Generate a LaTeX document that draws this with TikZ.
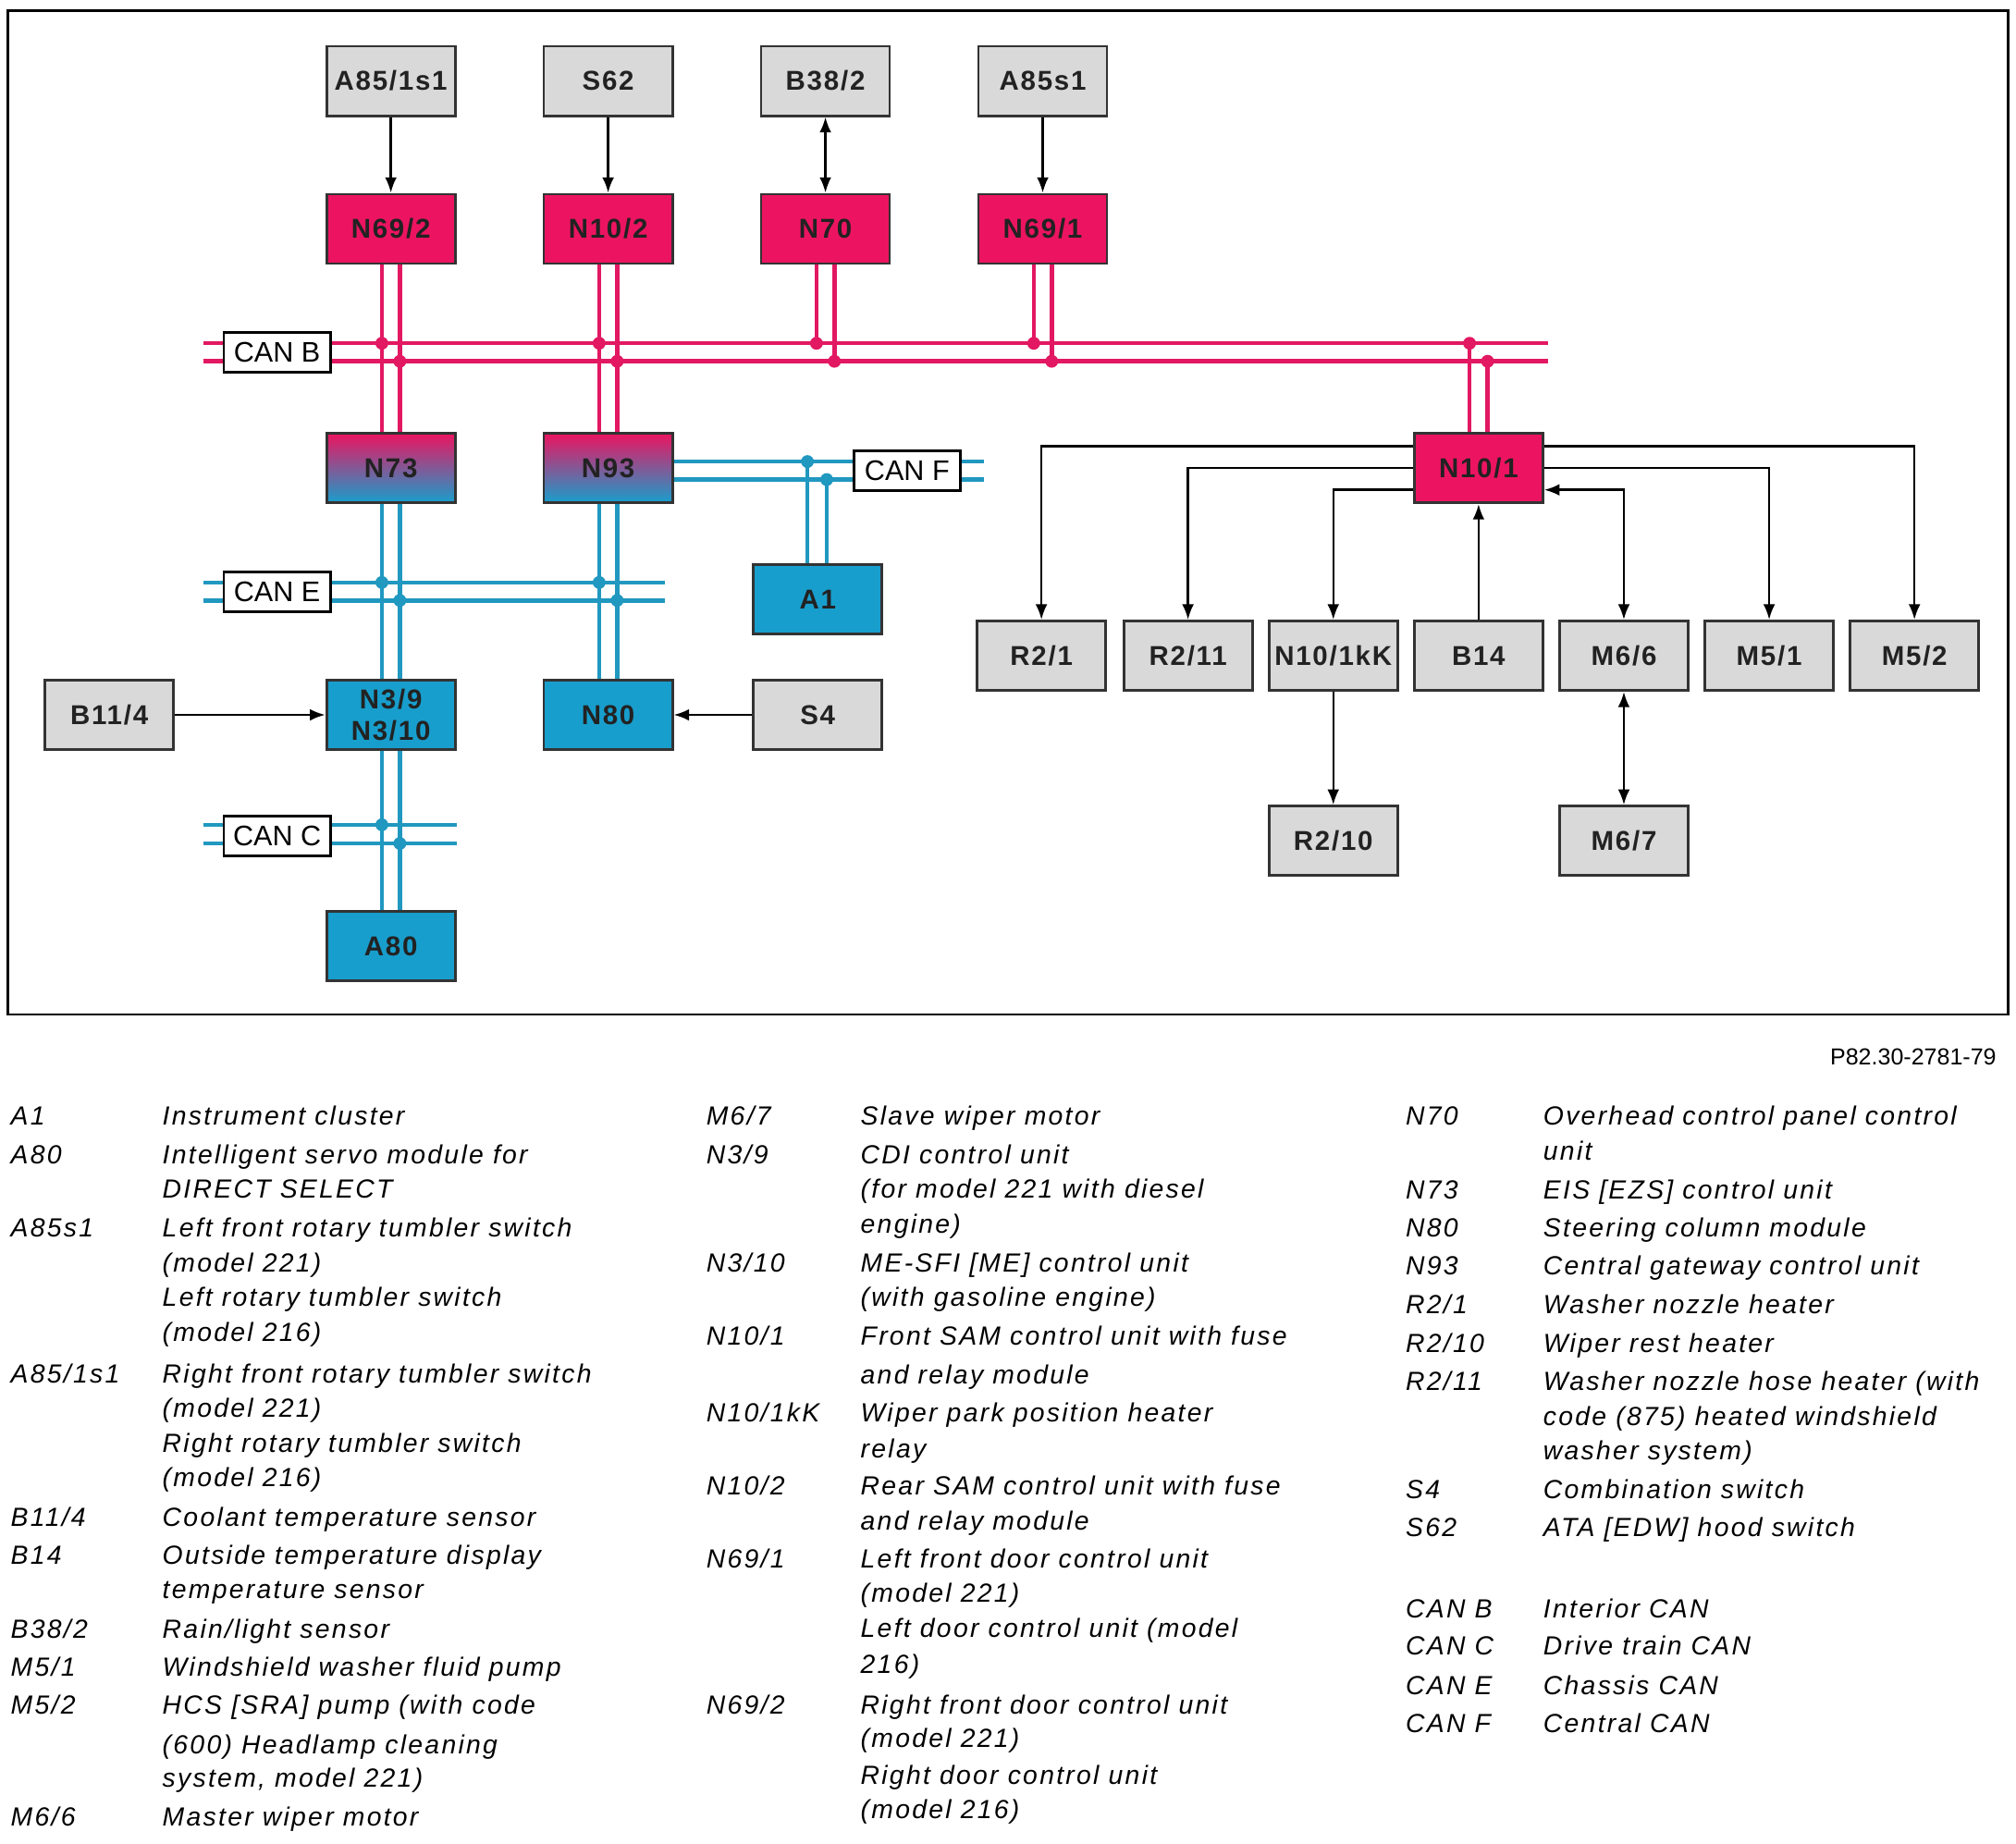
\documentclass[tikz,border=0pt]{standalone}
\usepackage{fontspec}
\setmainfont{Liberation Sans}
\newfontfamily\boxfont[LetterSpace=6]{Liberation Sans}
\newfontfamily\lgfont[LetterSpace=8]{Liberation Sans}
\usetikzlibrary{arrows.meta,calc}
\definecolor{pinkbox}{RGB}{236,20,96}
\definecolor{bluebox}{RGB}{24,158,204}
\definecolor{grayfill}{RGB}{217,217,217}
\definecolor{pinkbus}{RGB}{226,24,98}
\definecolor{bluebus}{RGB}{32,152,192}
\definecolor{boxtxt}{RGB}{34,34,34}
\newcommand{\lgl}[4]{\node[lg] (#1) at (#2,#3+7) {#4};}
\begin{document}
\begin{tikzpicture}[x=0.5pt,y=-0.5pt,
  unit/.style={draw=black!80, line width=1pt, minimum width=50pt, minimum height=27pt, inner sep=0pt,
    font=\boxfont\bfseries\fontsize{10.6}{12}\selectfont, text=boxtxt, align=center},
  gbox/.style={unit, fill=grayfill},
  pbox/.style={unit, fill=pinkbox},
  bbox/.style={unit, fill=bluebox},
  mbox/.style={unit, top color=pinkbox, bottom color=bluebox},
  canlbl/.style={draw=black, line width=1pt, fill=white, minimum width=41.5pt, minimum height=15.5pt, inner sep=0pt,
    font=\fontsize{11}{12}\selectfont},
  pbus/.style={pinkbus, line width=1.6pt},
  bbus/.style={bluebus, line width=1.6pt},
  arr/.style={line width=0.9pt, -{Latex[length=6pt,width=4.6pt]}},
  darr/.style={line width=0.9pt, {Latex[length=6pt,width=4.6pt]}-{Latex[length=6pt,width=4.6pt]}},
  lg/.style={anchor=base west, inner sep=0pt, font=\lgfont\itshape\fontsize{10.2}{12}\selectfont},
  pdot/.style={fill=pinkbus, draw=none},
  bdot/.style={fill=bluebus, draw=none}]
\useasboundingbox (0,0) rectangle (1568,1434);
\draw[line width=1pt] (6,8) rectangle (1562,789);

% bus coordinates
\coordinate (cbL1) at (158,267); \coordinate (cbR1) at (1204,267);
\coordinate (cbL2) at (158,281); \coordinate (cbR2) at (1204,281);
\coordinate (ceL1) at (158,453); \coordinate (ceR1) at (517,453);
\coordinate (ceL2) at (158,467); \coordinate (ceR2) at (517,467);
\coordinate (ccL1) at (158,641.5); \coordinate (ccR1) at (355,641.5);
\coordinate (ccL2) at (158,656); \coordinate (ccR2) at (355,656);
\coordinate (cfR1) at (765,359); \coordinate (cfR2) at (765,373);

% units
\node[gbox] (A851s1) at (304,63) {A85/1s1};
\node[gbox] (S62) at (473,63) {S62};
\node[gbox] (B382) at (642,63) {B38/2};
\node[gbox] (A85s1) at (811,63) {A85s1};
\node[pbox] (N692) at (304,178) {N69/2};
\node[pbox] (N102) at (473,178) {N10/2};
\node[pbox] (N70) at (642,178) {N70};
\node[pbox] (N691) at (811,178) {N69/1};
\node[mbox] (N73) at (304,364) {N73};
\node[mbox] (N93) at (473,364) {N93};
\node[pbox] (N101) at (1150,364) {N10/1};
\node[bbox] (A1) at (636,466) {A1};
\node[gbox] (B114) at (85,556) {B11/4};
\node[bbox] (N3) at (304,556) {N3/9\\N3/10};
\node[bbox] (N80) at (473,556) {N80};
\node[gbox] (S4) at (636,556) {S4};
\node[bbox] (A80) at (304,736) {A80};
\node[gbox] (R21) at (810,510) {R2/1};
\node[gbox] (R211) at (924,510) {R2/11};
\node[gbox] (N101kK) at (1037,510) {N10/1kK};
\node[gbox] (B14) at (1150,510) {B14};
\node[gbox] (M66) at (1263,510) {M6/6};
\node[gbox] (M51) at (1376,510) {M5/1};
\node[gbox] (M52) at (1489,510) {M5/2};
\node[gbox] (R210) at (1037,654) {R2/10};
\node[gbox] (M67) at (1263,654) {M6/7};

% CAN B
\draw[pbus] (cbL1) -- (cbR1);
\draw[pbus] (cbL2) -- (cbR2);
\foreach \a/\b in {N692/N73, N102/N93}{
  \draw[pbus] ($(\a.south)+(-7,0)$) -- ($(\b.north)+(-7,0)$);
  \draw[pbus] ($(\a.south)+(7,0)$) -- ($(\b.north)+(7,0)$);
}
\foreach \a in {N70, N691}{
  \draw[pbus] ($(\a.south)+(-7,0)$) -- ++(0,61);
  \draw[pbus] ($(\a.south)+(7,0)$) -- ++(0,75);
}
\draw[pbus] ($(N101.north)+(-7,0)$) -- ++(0,-70);
\draw[pbus] ($(N101.north)+(7,0)$) -- ++(0,-56);
\foreach \x in {297,466,635,804,1143}{\fill[pdot] (\x,267) circle[radius=2.5pt];}
\foreach \x in {311,480,649,818,1157}{\fill[pdot] (\x,281) circle[radius=2.5pt];}

% CAN E, CAN C, CAN F
\draw[bbus] (ceL1) -- (ceR1);
\draw[bbus] (ceL2) -- (ceR2);
\draw[bbus] (ccL1) -- (ccR1);
\draw[bbus] (ccL2) -- (ccR2);
\draw[bbus] ($(N93.east)+(0,-5)$) -- (cfR1);
\draw[bbus] ($(N93.east)+(0,9)$) -- (cfR2);
\foreach \a/\b in {N73/N3, N3/A80, N93/N80}{
  \draw[bbus] ($(\a.south)+(-7,0)$) -- ($(\b.north)+(-7,0)$);
  \draw[bbus] ($(\a.south)+(7,0)$) -- ($(\b.north)+(7,0)$);
}
\draw[bbus] ($(A1.north)+(-8,0)$) -- ++(0,-79);
\draw[bbus] ($(A1.north)+(7,0)$) -- ++(0,-65);
\foreach \x in {297,466}{\fill[bdot] (\x,453) circle[radius=2.5pt];}
\foreach \x in {311,480}{\fill[bdot] (\x,467) circle[radius=2.5pt];}
\fill[bdot] (297,641.5) circle[radius=2.5pt];
\fill[bdot] (311,656) circle[radius=2.5pt];
\fill[bdot] (628,359) circle[radius=2.5pt];
\fill[bdot] (643,373) circle[radius=2.5pt];

% CAN labels
\node[canlbl] (canB) at (215.5,274) {CAN B};
\node[canlbl] (canE) at (215.5,460.5) {CAN E};
\node[canlbl] (canC) at (215.5,650) {CAN C};
\node[canlbl] (canF) at (705.5,366) {CAN F};

% arrows
\draw[arr] (A851s1) -- (N692);
\draw[arr] (S62) -- (N102);
\draw[darr] (B382) -- (N70);
\draw[arr] (A85s1) -- (N691);
\draw[arr] (B114) -- (N3);
\draw[arr] (S4) -- (N80);
\draw[arr] ($(N101.west)+(0,-17)$) -| (R21.north);
\draw[arr] (N101.west) -| (R211.north);
\draw[arr] ($(N101.west)+(0,17)$) -| (N101kK.north);
\draw[arr] ($(N101.east)+(0,-17)$) -| (M52.north);
\draw[arr] (N101.east) -| (M51.north);
\draw[darr] ($(N101.east)+(0,17)$) -| (M66.north);
\draw[arr] (B14) -- (N101);
\draw[arr] (N101kK) -- (R210);
\draw[darr] (M66) -- (M67);

% reference number
\node[anchor=base east, inner sep=0pt, font=\fontsize{9}{11}\selectfont] (ref) at (1553,828) {P82.30-2781-79};

% legend column 1
\lgl{k1}{8}{868}{A1} \lgl{d1}{126}{868}{Instrument cluster}
\lgl{k2}{8}{898}{A80} \lgl{d2}{126}{898}{Intelligent servo module for} \lgl{d2b}{126}{924.5}{DIRECT SELECT}
\lgl{k3}{8}{955}{A85s1} \lgl{d3}{126}{955}{Left front rotary tumbler switch} \lgl{d3b}{126}{982}{(model 221)}
\lgl{d3c}{126}{1008.6}{Left rotary tumbler switch} \lgl{d3d}{126}{1036}{(model 216)}
\lgl{k4}{8}{1069}{A85/1s1} \lgl{d4}{126}{1069}{Right front rotary tumbler switch} \lgl{d4b}{126}{1095.5}{(model 221)}
\lgl{d4c}{126}{1122.5}{Right rotary tumbler switch} \lgl{d4d}{126}{1149}{(model 216)}
\lgl{k5}{8}{1180}{B11/4} \lgl{d5}{126}{1180}{Coolant temperature sensor}
\lgl{k6}{8}{1209.4}{B14} \lgl{d6}{126}{1209.4}{Outside temperature display} \lgl{d6b}{126}{1236}{temperature sensor}
\lgl{k7}{8}{1267}{B38/2} \lgl{d7}{126}{1267}{Rain/light sensor}
\lgl{k8}{8}{1296.4}{M5/1} \lgl{d8}{126}{1296.4}{Windshield washer fluid pump}
\lgl{k9}{8}{1326.3}{M5/2} \lgl{d9}{126}{1326.3}{HCS [SRA] pump (with code} \lgl{d9b}{126}{1357}{(600) Headlamp cleaning}
\lgl{d9c}{126}{1383}{system, model 221)}
\lgl{k10}{8}{1413.3}{M6/6} \lgl{d10}{126}{1413.3}{Master wiper motor}

% legend column 2
\lgl{k11}{549}{868}{M6/7} \lgl{d11}{669}{868}{Slave wiper motor}
\lgl{k12}{549}{898}{N3/9} \lgl{d12}{669}{898}{CDI control unit} \lgl{d12b}{669}{924.5}{(for model 221 with diesel}
\lgl{d12c}{669}{952}{engine)}
\lgl{k13}{549}{982}{N3/10} \lgl{d13}{669}{982}{ME-SFI [ME] control unit} \lgl{d13b}{669}{1008.6}{(with gasoline engine)}
\lgl{k14}{549}{1039.3}{N10/1} \lgl{d14}{669}{1039.3}{Front SAM control unit with fuse} \lgl{d14b}{669}{1069.2}{and relay module}
\lgl{k15}{549}{1098.7}{N10/1kK} \lgl{d15}{669}{1098.7}{Wiper park position heater} \lgl{d15b}{669}{1126.6}{relay}
\lgl{k16}{549}{1155.4}{N10/2} \lgl{d16}{669}{1155.4}{Rear SAM control unit with fuse} \lgl{d16b}{669}{1182.8}{and relay module}
\lgl{k17}{549}{1212.7}{N69/1} \lgl{d17}{669}{1212.7}{Left front door control unit} \lgl{d17b}{669}{1239.4}{(model 221)}
\lgl{d17c}{669}{1266.8}{Left door control unit (model} \lgl{d17d}{669}{1294.8}{216)}
\lgl{k18}{549}{1326.3}{N69/2} \lgl{d18}{669}{1326.3}{Right front door control unit} \lgl{d18b}{669}{1352.2}{(model 221)}
\lgl{d18c}{669}{1380.9}{Right door control unit} \lgl{d18d}{669}{1407.6}{(model 216)}

% legend column 3
\lgl{k19}{1093}{868}{N70} \lgl{d19}{1200}{868}{Overhead control panel control} \lgl{d19b}{1200}{895}{unit}
\lgl{k20}{1093}{925.3}{N73} \lgl{d20}{1200}{925.3}{EIS [EZS] control unit}
\lgl{k21}{1093}{955.2}{N80} \lgl{d21}{1200}{955.2}{Steering column module}
\lgl{k22}{1093}{984.7}{N93} \lgl{d22}{1200}{984.7}{Central gateway control unit}
\lgl{k23}{1093}{1014.7}{R2/1} \lgl{d23}{1200}{1014.7}{Washer nozzle heater}
\lgl{k24}{1093}{1044.6}{R2/10} \lgl{d24}{1200}{1044.6}{Wiper rest heater}
\lgl{k25}{1093}{1074.2}{R2/11} \lgl{d25}{1200}{1074.2}{Washer nozzle hose heater (with}
\lgl{d25b}{1200}{1101.6}{code (875) heated windshield} \lgl{d25c}{1200}{1128.7}{washer system)}
\lgl{k26}{1093}{1158.2}{S4} \lgl{d26}{1200}{1158.2}{Combination switch}
\lgl{k27}{1093}{1188.2}{S62} \lgl{d27}{1200}{1188.2}{ATA [EDW] hood switch}
\lgl{k28}{1093}{1251.3}{CAN B} \lgl{d28}{1200}{1251.3}{Interior CAN}
\lgl{k29}{1093}{1280.4}{CAN C} \lgl{d29}{1200}{1280.4}{Drive train CAN}
\lgl{k30}{1093}{1311.1}{CAN E} \lgl{d30}{1200}{1311.1}{Chassis CAN}
\lgl{k31}{1093}{1340.7}{CAN F} \lgl{d31}{1200}{1340.7}{Central CAN}
\end{tikzpicture}
\end{document}
